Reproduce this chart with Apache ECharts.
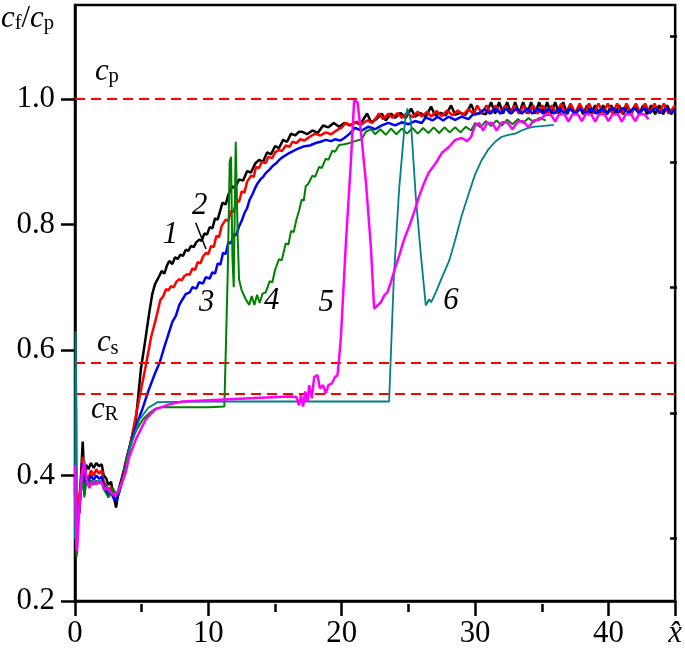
<!DOCTYPE html>
<html><head><meta charset="utf-8">
<script src="https://cdn.jsdelivr.net/npm/echarts@6/dist/echarts.min.js"></script>
<style>html,body{margin:0;padding:0;background:#fff}#c{width:685px;height:649px}</style>
</head><body><div id="c"></div>
<script>
// ---- tick values ----
const xMajorTicks = [0, 10, 20, 30, 40, 45];
const xMinorTicks = [5, 15, 25, 35];
const yMajorTicks = [0.2, 0.4, 0.6, 0.8, 1.0];
const yMinorTicks = [0.3, 0.5, 0.7, 0.9, 1.1];
// ---- reference levels c_p, c_s, c_R (normalised by c_p) ----
const refLevels = [1.0, 0.5774, 0.5308];

// ---- curve 1 (black) ----
const curve1 = [[0,0.40],[0.05,0.33],[0.12,0.29],[0.2,0.35],[0.33,0.354],[0.45,0.40],[0.58,0.454],[0.7,0.39],[0.83,0.417],[1.0,0.41],[1.2,0.42],[1.4,0.412],[1.6,0.42],[1.8,0.415],[2.0,0.418],[2.15,0.40],[2.33,0.396],[2.5,0.385],[2.7,0.39],[2.85,0.372],[3.08,0.349],[3.3,0.38],[3.5,0.395],[3.7,0.412],[3.9,0.43],[4.15,0.45],[4.57,0.49],[4.95,0.571],[5.3,0.62],[5.57,0.66],[5.8,0.69],[6.0,0.705],[6.32,0.718],[6.5,0.726],[6.7,0.722],[6.9,0.735],[7.07,0.742],[7.3,0.737],[7.5,0.748],[7.7,0.745],[7.9,0.752],[8.1,0.75],[8.3,0.76],[8.5,0.758],[8.7,0.766],[8.9,0.764],[9.1,0.772],[9.32,0.776],[9.5,0.774],[9.7,0.786],[9.9,0.784],[10.1,0.796],[10.3,0.794],[10.5,0.81],[10.7,0.808],[10.9,0.823],[11.06,0.835],[11.3,0.832],[11.5,0.848],[11.8,0.861],[12.0,0.858],[12.3,0.872],[12.6,0.87],[12.9,0.885],[13.2,0.883],[13.5,0.897],[13.8,0.903],[14.1,0.9],[14.4,0.915],[14.7,0.912],[15.0,0.925],[15.3,0.922],[15.6,0.935],[15.9,0.932],[16.2,0.945],[16.5,0.942],[16.8,0.948],
[17.0,0.948],[17.4,0.944],[17.8,0.95],[18.2,0.946],[18.6,0.958],[19.0,0.955],[19.4,0.962],[19.8,0.956],[20.2,0.962],[20.6,0.958],[21.0,0.963],[21.4,0.96],[21.9,0.977],[22.2,0.963],[22.6,0.968],[23.0,0.977],[23.3,0.966],[23.7,0.977],[24.0,0.97],[24.4,0.978],[24.8,0.97],[25.2,0.985],[25.5,0.972],[25.9,0.978],[26.3,0.972],[26.7,0.988],[27.0,0.974],[27.4,0.978],[27.8,0.974],[28.2,0.99],[28.5,0.975],[28.9,0.978],[29.3,0.975],[29.7,0.992],[30.0,0.976],[30.4,0.978],[30.8,0.976],[31.2,0.995],[31.5,0.977],[31.8,0.995],[32.1,0.977],[32.4,0.995],[32.7,0.977],[33.0,0.995],[33.3,0.977],[33.6,0.995],[33.9,0.977],[34.2,0.995],[34.5,0.977],[34.8,0.995],[35.1,0.977],[35.4,0.995],[35.7,0.977],[36.0,0.995],[36.3,0.977],[36.6,0.995],[36.9,0.976],[37.2,0.99],[37.5,0.976],[37.8,0.99],[38.1,0.976],[38.4,0.99],[38.7,0.976],[39.0,0.99],[39.3,0.976],[39.6,0.99],[39.9,0.976],[40.2,0.99],[40.5,0.976],[40.8,0.99],[41.1,0.976],[41.4,0.99],[41.7,0.976],[42.0,0.99],[42.3,0.976],[42.6,0.99],[42.9,0.976],[43.2,0.99],[43.5,0.976],[43.8,0.99],[44.1,0.976],[44.4,0.99],[44.7,0.976],[45.0,0.985]];

// ---- curve 2 (red) ----
const curve2 = [[0,0.39],[0.05,0.32],[0.12,0.28],[0.2,0.345],[0.33,0.345],[0.45,0.39],[0.58,0.43],[0.7,0.375],[0.83,0.40],[1.0,0.395],[1.2,0.408],[1.4,0.40],[1.6,0.41],[1.8,0.403],[2.0,0.408],[2.15,0.39],[2.33,0.385],[2.5,0.375],[2.7,0.382],[2.85,0.37],[3.08,0.36],[3.3,0.375],[3.5,0.39],[3.7,0.41],[3.9,0.43],[4.15,0.45],[4.7,0.51],[5.27,0.571],[5.7,0.62],[6.07,0.65],[6.4,0.68],[6.6,0.685],[6.82,0.697],[7.0,0.695],[7.2,0.702],[7.4,0.7],[7.6,0.709],[7.82,0.713],[8.0,0.711],[8.2,0.718],[8.44,0.721],[8.6,0.72],[8.8,0.73],[9.0,0.728],[9.2,0.74],[9.4,0.738],[9.6,0.749],[9.82,0.755],[10.0,0.753],[10.2,0.766],[10.4,0.764],[10.6,0.782],[10.8,0.78],[11.0,0.798],[11.3,0.808],[11.5,0.806],[11.7,0.822],[11.9,0.82],[12.1,0.838],[12.3,0.836],[12.5,0.853],[12.7,0.851],[12.9,0.868],[13.2,0.878],[13.4,0.876],[13.57,0.892],[13.8,0.89],[14.0,0.9],[14.3,0.898],[14.5,0.908],[14.8,0.906],[15.0,0.915],[15.3,0.919],[15.5,0.917],[15.8,0.926],[16.1,0.924],[16.3,0.932],[16.6,0.93],[16.9,0.936],[17.2,0.934],[17.6,0.94],[18.0,0.945],[18.4,0.942],[18.8,0.947],[19.2,0.944],[19.6,0.95],[20.0,0.955],[20.3,0.962],[20.7,0.958],[21.1,0.964],[21.5,0.96],[21.9,0.966],[22.3,0.962],[22.8,0.977],[23.1,0.968],[23.5,0.977],[23.8,0.97],[24.2,0.978],[24.5,0.97],[24.9,0.978],[25.3,0.971],[25.7,0.98],[26.0,0.972],[26.4,0.98],[26.7,0.972],[27.1,0.981],[27.5,0.973],[27.9,0.982],[28.3,0.974],[28.7,0.982],[29.1,0.975],[29.5,0.984],[29.9,0.976],[30.15,0.99],[30.5,0.977],[30.85,0.99],[31.2,0.977],[31.55,0.99],[31.9,0.977],[32.25,0.99],[32.6,0.977],[32.95,0.99],[33.3,0.977],[33.65,0.99],[34.0,0.977],[34.35,0.99],[34.7,0.977],[35.05,0.99],[35.4,0.977],[35.75,0.99],[36.1,0.977],[36.45,0.993],[36.8,0.977],[37.15,0.993],[37.5,0.977],[37.85,0.993],[38.2,0.977],[38.55,0.993],[38.9,0.977],[39.25,0.993],[39.6,0.977],[39.95,0.993],[40.3,0.977],[40.65,0.993],[41.0,0.977],[41.35,0.993],[41.7,0.977],[42.05,0.993],[42.4,0.977],[42.75,0.993],[43.1,0.977],[43.45,0.993],[43.8,0.977],[44.15,0.993],[44.5,0.977],[45.0,0.99]];

// ---- curve 3 (blue) ----
const curve3 = [[0,0.38],[0.05,0.31],[0.12,0.275],[0.2,0.345],[0.33,0.34],[0.45,0.38],[0.58,0.42],[0.7,0.37],[0.83,0.395],[1.0,0.39],[1.2,0.40],[1.4,0.393],[1.6,0.40],[1.8,0.395],[2.0,0.398],[2.15,0.385],[2.33,0.378],[2.5,0.368],[2.7,0.375],[2.85,0.365],[3.08,0.36],[3.3,0.372],[3.5,0.388],[3.7,0.405],[3.9,0.427],[4.15,0.45],[4.6,0.48],[5.07,0.507],[5.5,0.535],[6.0,0.563],[6.35,0.58],[6.7,0.605],[7.0,0.625],[7.3,0.645],[7.57,0.655],[7.82,0.672],[8.07,0.681],[8.3,0.689],[8.6,0.692],[8.8,0.70],[9.1,0.698],[9.3,0.708],[9.6,0.706],[9.8,0.716],[10.1,0.714],[10.3,0.724],[10.5,0.722],[10.7,0.738],[10.9,0.736],[11.1,0.755],[11.3,0.753],[11.5,0.772],[11.7,0.77],[11.9,0.785],[12.1,0.783],[12.3,0.797],[12.5,0.806],[12.7,0.818],[12.9,0.826],[13.1,0.84],[13.3,0.848],[13.5,0.858],[13.7,0.866],[13.9,0.872],[14.1,0.876],[14.3,0.882],[14.6,0.888],[14.8,0.893],[15.1,0.898],[15.3,0.903],[15.6,0.908],[16.06,0.914],[16.6,0.92],[17.2,0.925],[17.6,0.926],[18.06,0.93],[18.4,0.932],[18.8,0.935],[19.2,0.933],[19.5,0.936],[19.9,0.934],[20.2,0.938],[20.6,0.945],[21.0,0.954],[21.5,0.95],[22.0,0.956],[22.5,0.952],[23.0,0.958],[23.5,0.962],[24.0,0.958],[24.5,0.963],[25.0,0.96],[25.5,0.965],[26.0,0.962],[26.3,0.971],[26.8,0.966],[27.2,0.972],[27.6,0.966],[28.0,0.972],[28.5,0.967],[29.0,0.972],[29.5,0.968],[29.8,0.975],[30.3,0.977],[30.7,0.984],[31.1,0.977],[31.5,0.985],[31.9,0.977],[32.3,0.985],[32.7,0.977],[33.1,0.985],[33.5,0.977],[33.9,0.985],[34.3,0.977],[34.7,0.985],[35.1,0.977],[35.5,0.985],[35.9,0.977],[36.3,0.985],[36.7,0.977],[37.1,0.985],[37.5,0.977],[37.9,0.985],[38.3,0.977],[38.7,0.985],[39.1,0.977],[39.5,0.985],[39.9,0.977],[40.3,0.986],[40.7,0.978],[41.1,0.986],[41.5,0.978],[41.9,0.986],[42.3,0.978],[42.7,0.986],[43.1,0.978],[43.5,0.986],[43.9,0.978],[44.3,0.986],[44.7,0.978],[45.0,0.982]];

// ---- curve 4 (green) ----
const curve4 = [[0,0.37],[0.05,0.30],[0.12,0.27],[0.2,0.335],[0.33,0.335],[0.45,0.37],[0.58,0.41],[0.7,0.365],[0.83,0.39],[1.0,0.385],[1.2,0.392],[1.4,0.385],[1.6,0.392],[1.8,0.387],[2.0,0.39],[2.15,0.378],[2.33,0.372],[2.5,0.365],[2.7,0.372],[2.85,0.38],[3.08,0.37],[3.3,0.372],[3.5,0.388],[3.7,0.405],[3.9,0.427],[4.15,0.45],[4.6,0.472],[5.07,0.489],[5.6,0.5],[6.07,0.507],[6.5,0.509],[8,0.509],[10,0.509],[11.2,0.51],[11.45,0.72],[11.6,0.90],[11.7,0.908],[11.8,0.75],[11.9,0.70],[12.05,0.932],[12.2,0.78],[12.3,0.713],[12.5,0.695],[12.8,0.681],[13.06,0.672],[13.25,0.686],[13.45,0.672],[13.65,0.688],[13.85,0.675],[14.06,0.69],[14.3,0.692],[14.6,0.71],[14.8,0.708],[15.0,0.728],[15.3,0.745],[15.5,0.743],[15.8,0.77],[16.0,0.768],[16.2,0.79],[16.4,0.788],[16.6,0.808],[16.8,0.822],[17.0,0.84],[17.15,0.838],[17.3,0.861],[17.5,0.865],[17.8,0.878],[18.0,0.876],[18.3,0.892],[18.5,0.89],[18.8,0.905],[19.0,0.903],[19.3,0.918],[19.5,0.916],[19.8,0.927],[20.2,0.928],[20.6,0.93],[21.0,0.933],[21.5,0.936],[21.8,0.948],[22.2,0.952],[22.5,0.944],[22.9,0.952],[23.3,0.943],[23.7,0.953],[24.1,0.944],[24.5,0.953],[24.9,0.945],[25.3,0.954],[25.7,0.945],[26.1,0.954],[26.5,0.946],[26.9,0.955],[27.3,0.946],[27.7,0.955],[28.1,0.947],[28.5,0.955],[28.9,0.947],[29.3,0.956],[29.7,0.95],[30.0,0.962],[30.4,0.955],[30.8,0.965],[31.2,0.957],[31.6,0.966],[32.0,0.958],[32.4,0.967],[32.8,0.96],[33.2,0.968],[33.6,0.962],[34.0,0.97],[34.4,0.963],[34.8,0.97],[35.3,0.966]];

// ---- curve 5 (magenta) ----
const curve5 = [[0,0.417],[0.05,0.36],[0.1,0.30],[0.15,0.28],[0.33,0.349],[0.5,0.40],[0.7,0.423],[0.85,0.395],[1.08,0.38],[1.3,0.39],[1.58,0.386],[1.8,0.39],[2.0,0.388],[2.2,0.378],[2.4,0.38],[2.58,0.376],[2.75,0.372],[2.95,0.368],[3.2,0.373],[3.4,0.382],[3.57,0.391],[3.8,0.405],[4.07,0.43],[4.57,0.458],[5.32,0.49],[6.0,0.505],[7.0,0.513],[8.07,0.518],[10,0.52],[12,0.522],[14,0.524],[16,0.526],[16.6,0.525],[16.8,0.512],[16.94,0.528],[17.1,0.51],[17.26,0.534],[17.43,0.518],[17.56,0.544],[17.76,0.523],[17.93,0.557],[18.18,0.56],[18.36,0.539],[18.6,0.544],[18.8,0.531],[19.0,0.544],[19.26,0.547],[19.5,0.557],[19.68,0.56],[19.8,0.586],[19.93,0.618],[20.3,0.766],[20.68,0.898],[20.93,0.998],[21.18,0.995],[21.43,0.95],[21.8,0.871],[22.18,0.766],[22.43,0.666],[22.68,0.671],[22.93,0.676],[23.18,0.687],[23.42,0.692],[23.68,0.708],[24.05,0.734],[24.3,0.75],[24.67,0.776],[25.05,0.797],[25.42,0.819],[25.8,0.845],[26.17,0.866],[26.5,0.882],[27.05,0.898],[27.5,0.914],[28.05,0.924],[28.5,0.935],[29.0,0.938],[29.4,0.933],[29.7,0.94],[30.0,0.958],[30.3,0.962],[30.6,0.95],[30.9,0.962],[31.3,0.962],[31.6,0.95],[32.0,0.963],[32.4,0.963],[32.8,0.952],[33.2,0.964],[33.6,0.965],[34.0,0.955],[34.4,0.966],[34.8,0.967],[35.3,0.975],[35.7,0.975],[36.0,0.964],[36.3,0.976],[36.7,0.976],[37.0,0.964],[37.3,0.976],[37.7,0.976],[38.0,0.965],[38.3,0.976],[38.7,0.976],[39.0,0.964],[39.3,0.976],[39.7,0.976],[40.0,0.965],[40.3,0.976],[40.7,0.976],[41.0,0.964],[41.3,0.976],[41.7,0.976],[42.0,0.965],[42.3,0.976],[42.7,0.976],[43.0,0.968]];

// ---- curve 6 (teal) ----
const curve6 = [[0,0.30],[0.04,0.63],[0.12,0.5],[0.17,0.29],[0.25,0.33],[0.35,0.35],[0.5,0.40],[0.7,0.42],[0.85,0.395],[1.08,0.382],[1.3,0.392],[1.58,0.388],[1.8,0.392],[2.0,0.39],[2.2,0.38],[2.4,0.382],[2.58,0.378],[2.75,0.374],[2.95,0.37],[3.2,0.375],[3.4,0.385],[3.57,0.393],[3.8,0.41],[4.07,0.44],[4.82,0.489],[5.5,0.508],[6.2,0.517],[10,0.518],[15,0.518],[20,0.518],[23.55,0.518],[23.9,0.713],[24.3,0.856],[24.75,0.966],[24.92,0.985],[25.18,0.966],[25.55,0.845],[25.92,0.755],[26.3,0.671],[26.55,0.681],[26.7,0.676],[27.05,0.692],[27.5,0.715],[28.05,0.742],[28.5,0.775],[29.0,0.815],[29.5,0.848],[30.0,0.88],[30.5,0.903],[31.0,0.92],[31.5,0.932],[32.0,0.94],[32.5,0.943],[33.0,0.945],[33.5,0.95],[34.0,0.954],[34.5,0.956],[35.0,0.957],[35.9,0.959]];

// ---- pick an installed Times-like serif font and size it to the reference ----
function fontInstalled(name) {
  const ctx = document.createElement('canvas').getContext('2d');
  const t = '0123456789.c/xfpsR';
  let same = true;
  ['monospace', 'sans-serif'].forEach(fb => {
    ctx.font = '40px ' + fb; const a = ctx.measureText(t).width;
    ctx.font = '40px "' + name + '", ' + fb; const b = ctx.measureText(t).width;
    if (Math.abs(a - b) > 0.01) same = false;
  });
  return !same;
}
const fontCandidates = ['Liberation Serif', 'Times New Roman', 'Tinos', 'Nimbus Roman', 'Nimbus Roman No9 L', 'FreeSerif', 'DejaVu Serif'];
const FONT = fontCandidates.find(fontInstalled) || 'serif';
const FS = (function () {
  const ctx = document.createElement('canvas').getContext('2d');
  ctx.font = '100px "' + FONT + '", serif';
  const w = ctx.measureText('0.2').width / 100;
  return Math.max(22, Math.min(32, 38.5 / w));
})();
const SUB = FS * 0.67;
const AX = '#000';

const subRich = {
  c: {fontFamily: FONT, fontStyle: 'italic', fontSize: FS, lineHeight: FS, color: '#000', verticalAlign: 'bottom'},
  s: {fontFamily: FONT, fontSize: SUB, lineHeight: SUB * 0.7, color: '#000', verticalAlign: 'bottom'},
  n: {fontFamily: FONT, fontSize: FS, lineHeight: FS, color: '#000', verticalAlign: 'bottom'}
};

function numberLabel(text, coord) {
  return {
    symbol: 'rect', symbolSize: 1, silent: true,
    itemStyle: {color: 'rgba(0,0,0,0)'},
    label: {show: true, position: [0, 0], align: 'center', verticalAlign: 'middle',
      formatter: text, fontFamily: FONT, fontStyle: 'italic', fontSize: FS, color: '#000'},
    data: [{coord: coord}]
  };
}

function lineSeries(name, data, color, width, extra) {
  return Object.assign({
    name, type: 'line', data, showSymbol: false, symbol: 'none',
    lineStyle: {color, width}, itemStyle: {color}, silent: true
  }, extra || {});
}

const chart = echarts.init(document.getElementById('c'), null, {renderer: 'canvas'});
chart.setOption({
  animation: false,
  backgroundColor: '#fff',
  textStyle: {fontFamily: FONT},
  grid: {left: 75, right: 8, top: 5, bottom: 45, show: true, borderColor: AX, borderWidth: 2.5},
  xAxis: [{
    type: 'value', min: 0, max: 45, position: 'bottom',
    axisLine: {show: true, onZero: false, lineStyle: {color: AX, width: 2.5}},
    axisTick: {show: true, customValues: xMajorTicks, length: 15, lineStyle: {color: AX, width: 2.5}},
    axisLabel: {customValues: xMajorTicks, margin: 17, fontFamily: FONT, fontSize: FS, color: '#000',
      formatter: v => (v === 45 ? '{h|x\u0302}' : String(v)),
      rich: {h: {fontFamily: FONT, fontStyle: 'italic', fontSize: FS, color: '#000'}}},
    splitLine: {show: false}
  }, {
    type: 'value', min: 0, max: 45, position: 'top', offset: -599,
    axisLine: {show: false},
    axisTick: {show: true, inside: true, customValues: xMinorTicks, length: 8, lineStyle: {color: AX, width: 2.5}},
    axisLabel: {show: false}, splitLine: {show: false}
  }],
  yAxis: [{
    type: 'value', min: 0.2, max: 1.15, position: 'left',
    axisLine: {show: true, onZero: false, lineStyle: {color: AX, width: 2.5}},
    axisTick: {show: true, customValues: yMajorTicks, length: 14, lineStyle: {color: AX, width: 2.5}},
    axisLabel: {customValues: yMajorTicks, margin: 20, fontFamily: FONT, fontSize: FS, color: '#000',
      formatter: v => v.toFixed(1)},
    splitLine: {show: false}
  }, {
    type: 'value', min: 0.2, max: 1.15, position: 'right', offset: -602,
    axisLine: {show: false},
    axisTick: {show: true, inside: true, customValues: yMinorTicks, length: 7, lineStyle: {color: AX, width: 2.5}},
    axisLabel: {show: false}, splitLine: {show: false}
  }],
  graphic: [{
    type: 'text', left: 1, top: 3, silent: true,
    style: {text: '{c|c}{s|f}{n|/}{c|c}{s|p}', rich: subRich, fill: '#000', fontFamily: FONT}
  }],
  series: [
    lineSeries('1', curve1, '#000000', 2.5, {
      z: 2,
      markLine: {
        silent: true, symbol: ['none', 'none'], label: {show: false},
        lineStyle: {color: '#ff0000', type: [10, 6], width: 2},
        data: refLevels.map(v => ({yAxis: v}))
      },
      markPoint: numberLabel('1', [7.2, 0.783])
    }),
    lineSeries('2', curve2, '#ff0000', 2.5, {
      z: 3,
      markPoint: numberLabel('2', [9.38, 0.829]),
      markLine: {
        silent: true, symbol: ['none', 'none'], label: {show: false},
        lineStyle: {color: '#000', type: 'solid', width: 1.5},
        data: [[{coord: [9.05, 0.803]}, {coord: [9.82, 0.761]}]]
      }
    }),
    lineSeries('3', curve3, '#0000ff', 2.5, {z: 4, markPoint: numberLabel('3', [9.92, 0.674])}),
    lineSeries('4', curve4, '#008000', 2, {z: 5, markPoint: numberLabel('4', [14.79, 0.677])}),
    lineSeries('6', curve6, '#008080', 1.8, {z: 6, markPoint: numberLabel('6', [28.23, 0.677])}),
    lineSeries('5', curve5, '#ff00ff', 2.5, {z: 7, markPoint: numberLabel('5', [18.87, 0.674])}),
    {
      name: 'refLabels', type: 'line', data: [], silent: true, z: 8,
      markPoint: {
        symbol: 'rect', symbolSize: 1, silent: true, itemStyle: {color: 'rgba(0,0,0,0)'},
        label: {show: true, position: [0, 0], align: 'left', verticalAlign: 'middle', rich: subRich},
        data: [
          {coord: [1.53, 1.043], label: {formatter: '{c|c}{s|p}'}},
          {coord: [1.68, 0.610], label: {formatter: '{c|c}{s|s}'}},
          {coord: [1.23, 0.504], label: {formatter: '{c|c}{s|R}'}}
        ]
      }
    }
  ]
});
</script>
</body></html>
